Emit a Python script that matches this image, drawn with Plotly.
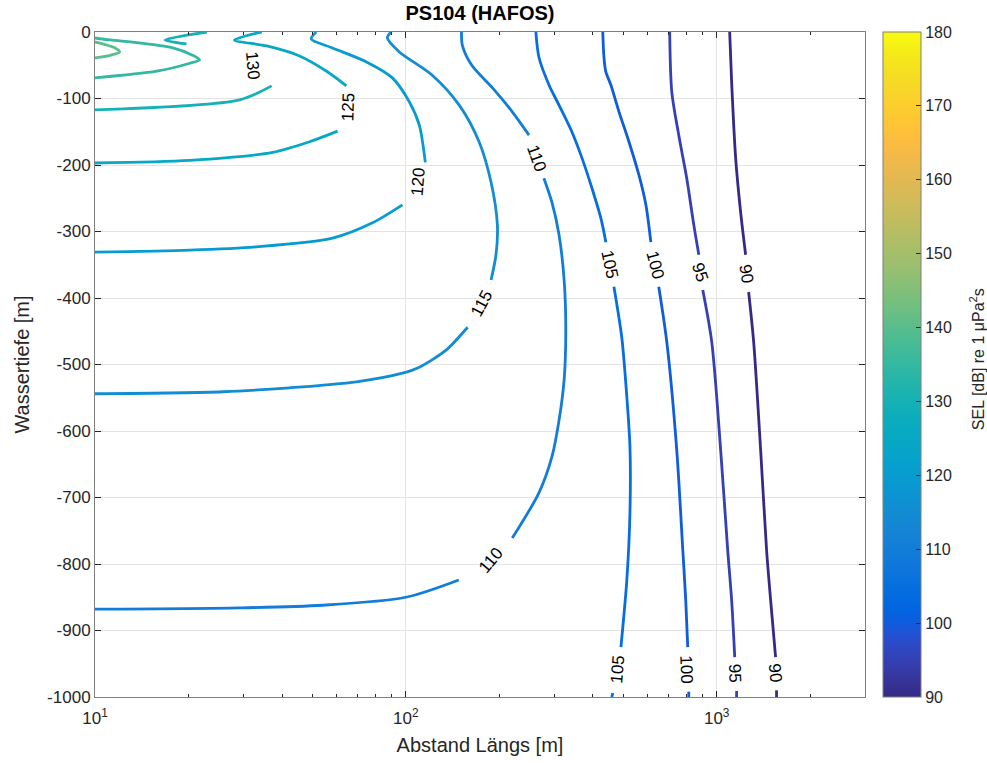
import numpy as np
import plotly.graph_objects as go

# ---------------- data ----------------
levels = [90, 95, 100, 105, 110, 115, 120, 125, 130, 135, 140]

# range [m] / depth [m]; None marks a break (label gap)
L90_x = [1101, 1117, 1151, 1194, 1239, None, 1267, 1315, 1385, 1447, 1491, 1547, None, 1558, 1558]
L90_y = [0, -75, -190, -271, -335, None, -391, -466, -629, -779, -854, -940, None, -990, -1000]

L95_x = [706, 717, 755, 801, 844, 876, None, 902, 964, 1030, 1085, 1117, 1143, None, 1159, 1159]
L95_y = [0, -90, -155, -220, -290, -335, None, -388, -466, -629, -779, -854, -940, None, -991, -1000]

L100_x = [430, 434, 440, 457, 485, 522, 562, 592, 614, None, 651, 691, 744, 778, 795, 807, None, 813, 813]
L100_y = [0, -39, -60, -80, -120, -165, -215, -260, -316, None, -383, -466, -629, -779, -854, -925, None, -992, -1000]

L105_x = [262, 268, 289, 311, 342, 369, 397, 424, 440, None, 467, 495, 514, 526, 526, 514, 492, None, 463, 460]
L105_y = [0, -38, -80, -110, -150, -190, -235, -280, -316, None, -383, -459, -549, -624, -723, -824, -925, None, -994, -1000]

L110_x = [151, 152, 163, 190, 220, 249, None, 278, 295, 311, 323, 327, 323, 311, 295, 268, 220, None, 148, 100, 54, 29, 10]
L110_y = [0, -20, -50, -84, -120, -155, None, -220, -256, -305, -373, -448, -523, -584, -639, -693, -761, None, -824, -850, -862, -866, -868]

L115_x = [89.5, 87.2, 95.3, 121.6, 148.5, 172, 188, 197, 195, 188, None, 158, 135, 110.5, 97.5, 69.3, 42.3, 25.8, 10]
L115_y = [0, -9, -30, -65, -110, -165, -226, -290, -335, -373, None, -444, -478, -504, -513, -526, -535, -541, -544]

L120_x = [51.5, 49.6, 58.1, 74.7, 90.5, 102.6, 110.5, 115.5, None, 97.5, 78.1, 58.1, 33.1, 20.2, 10]
L120_y = [0, -10.5, -24, -45, -69, -105, -140, -196, None, -260, -287, -310, -323, -328, -331]

L125_x = [34.4, 28.1, 35.7, 45.5, 55.6, 64.4, None, 60.3, 49.0, 37.3, 20.2, 10]
L125_y = [0, -12, -21, -36, -59, -81, None, -149, -165, -181, -193, -197]

L130_x = [10, 29.2, 37.0, None, 22.9, 16.8, 19.7]
L130_y = [-117, -102, -81, None, 0, -12, -18]

L135_x = [10, 15.8, 20.2, 21.7, 20.6, 17.8, 13.9, 11.2, 10]
L135_y = [-69, -59, -47, -42, -35, -24, -16.5, -12, -9]

L140_x = [10, 11.2, 12.0, 11.6, 10.6, 10]
L140_y = [-39, -35, -30, -24, -18, -15]

line_x = [L90_x, L95_x, L100_x, L105_x, L110_x, L115_x, L120_x, L125_x, L130_x, L135_x, L140_x]
line_y = [L90_y, L95_y, L100_y, L105_y, L110_y, L115_y, L120_y, L125_y, L130_y, L135_y, L140_y]

# contour labels
label_text = ["130", "125", "120", "110", "115", "110", "105", "100", "95", "90", "105", "100", "95", "90"]
label_x = [32.2, 65.4, 109.7, 263.4, 175.4, 187.5, 451.8, 632.4, 882, 1249, 481, 801, 1147, 1547]
label_y = [-50, -114, -225, -190, -408, -794, -350, -350, -362, -364, -959, -958, -964, -964]
label_angle = [85, -88, -85, 70, -62, -50, 78, 75, 72, 80, -85, 88, 88, 85]

y_ticks = [0, -100, -200, -300, -400, -500, -600, -700, -800, -900, -1000]
x_ticks = [10, 100, 1000]
x_ticktext = ["10<sup>1</sup>", "10<sup>2</sup>", "10<sup>3</sup>"]
x_minor = [20, 30, 40, 50, 60, 70, 80, 90, 200, 300, 400, 500, 600, 700, 800, 900, 2000, 3000]
cbar_ticks = [90, 100, 110, 120, 130, 140, 150, 160, 170, 180]
clim = (90, 180)
x_range = (10, 3000)

# ---------------- parula colormap ----------------
PARULA = [
    [0.2081, 0.1663, 0.5292], [0.2116, 0.1898, 0.5777], [0.2123, 0.2138, 0.6270], [0.2081, 0.2386, 0.6771],
    [0.1959, 0.2645, 0.7279], [0.1707, 0.2919, 0.7792], [0.1253, 0.3242, 0.8303], [0.0591, 0.3598, 0.8683],
    [0.0117, 0.3875, 0.8820], [0.0060, 0.4086, 0.8828], [0.0165, 0.4266, 0.8786], [0.0329, 0.4430, 0.8720],
    [0.0498, 0.4586, 0.8641], [0.0629, 0.4737, 0.8554], [0.0723, 0.4887, 0.8467], [0.0779, 0.5040, 0.8384],
    [0.0793, 0.5200, 0.8312], [0.0749, 0.5375, 0.8263], [0.0641, 0.5570, 0.8240], [0.0488, 0.5772, 0.8228],
    [0.0343, 0.5966, 0.8199], [0.0265, 0.6137, 0.8135], [0.0239, 0.6287, 0.8038], [0.0231, 0.6418, 0.7913],
    [0.0228, 0.6535, 0.7768], [0.0267, 0.6642, 0.7607], [0.0384, 0.6743, 0.7436], [0.0590, 0.6838, 0.7254],
    [0.0843, 0.6928, 0.7062], [0.1133, 0.7015, 0.6859], [0.1453, 0.7098, 0.6646], [0.1801, 0.7177, 0.6424],
    [0.2178, 0.7250, 0.6193], [0.2586, 0.7317, 0.5954], [0.3022, 0.7376, 0.5712], [0.3482, 0.7424, 0.5473],
    [0.3953, 0.7459, 0.5244], [0.4420, 0.7481, 0.5033], [0.4871, 0.7491, 0.4840], [0.5300, 0.7491, 0.4661],
    [0.5709, 0.7485, 0.4494], [0.6099, 0.7473, 0.4337], [0.6473, 0.7456, 0.4188], [0.6834, 0.7435, 0.4044],
    [0.7184, 0.7411, 0.3905], [0.7525, 0.7384, 0.3768], [0.7858, 0.7356, 0.3633], [0.8185, 0.7327, 0.3498],
    [0.8507, 0.7299, 0.3360], [0.8824, 0.7274, 0.3217], [0.9139, 0.7258, 0.3063], [0.9450, 0.7261, 0.2886],
    [0.9739, 0.7314, 0.2666], [0.9938, 0.7455, 0.2403], [0.9990, 0.7653, 0.2164], [0.9955, 0.7861, 0.1967],
    [0.9880, 0.8066, 0.1794], [0.9789, 0.8271, 0.1633], [0.9697, 0.8481, 0.1475], [0.9626, 0.8705, 0.1309],
    [0.9589, 0.8949, 0.1132], [0.9598, 0.9218, 0.0948], [0.9661, 0.9514, 0.0755], [0.9763, 0.9831, 0.0538],
]


def rgb(c):
    return "rgb(%d,%d,%d)" % tuple(int(round(v * 255)) for v in c)


def parula(t):
    t = min(max(t, 0.0), 1.0)
    pos = t * (len(PARULA) - 1)
    i = int(np.floor(pos))
    if i >= len(PARULA) - 1:
        return rgb(PARULA[-1])
    f = pos - i
    return rgb([PARULA[i][k] * (1 - f) + PARULA[i + 1][k] * f for k in range(3)])


colorscale = [[i / (len(PARULA) - 1), rgb(c)] for i, c in enumerate(PARULA)]

FONT = "Liberation Sans, Arial, Helvetica, sans-serif"
TXT = "#262626"

fig = go.Figure()

for lev, xs, ys in zip(levels, line_x, line_y):
    fig.add_trace(go.Scatter(
        x=xs, y=ys, mode="lines", connectgaps=False,
        line=dict(color=parula((lev - clim[0]) / (clim[1] - clim[0])), width=2.8,
                  shape="spline", smoothing=0.8),
        name=str(lev), showlegend=False, hoverinfo="skip",
    ))

# colour bar carrier
fig.add_trace(go.Scatter(
    x=[x_range[0], x_range[0]], y=[-1000, -1000], mode="markers",
    marker=dict(size=0.1, opacity=0, color=list(clim), cmin=clim[0], cmax=clim[1],
                colorscale=colorscale, showscale=True,
                colorbar=dict(
                    x=1.0234, xanchor="left", xref="paper", y=0.5, yanchor="middle",
                    len=1.0, lenmode="fraction", thickness=38, xpad=0, ypad=0,
                    outlinecolor="#7f7f7f", outlinewidth=1,
                    tickvals=cbar_ticks, ticks="inside", ticklen=5, tickcolor="#262626",
                    tickfont=dict(family=FONT, size=16, color=TXT),
                )),
    showlegend=False, hoverinfo="skip",
))

# colour bar title
fig.add_annotation(x=1.1455, y=0.508, xref="paper", yref="paper",
                   text="SEL [dB] re 1 μPa<sup>2</sup>s", showarrow=False, textangle=-90,
                   font=dict(family=FONT, size=16, color=TXT), xanchor="center", yanchor="middle")

for t, x, y, a in zip(label_text, label_x, label_y, label_angle):
    fig.add_annotation(x=np.log10(x), y=y, xref="x", yref="y", text=t, showarrow=False,
                       textangle=a, font=dict(family=FONT, size=17, color="black"),
                       xanchor="center", yanchor="middle")

fig.update_layout(
    width=987, height=763,
    margin=dict(l=95, r=122, t=32, b=66, autoexpand=False),
    paper_bgcolor="white", plot_bgcolor="white",
    font=dict(family=FONT, color=TXT),
    title=dict(text="<b>PS104 (HAFOS)</b>", x=(95 + 865) / 2 / 987, xanchor="center",
               y=1 - 13 / 763, yanchor="middle", yref="container",
               font=dict(family=FONT, size=20, color="black")),
    showlegend=False,
)

fig.update_xaxes(
    type="log", range=[np.log10(x_range[0]), np.log10(x_range[1])],
    tickmode="array", tickvals=x_ticks, ticktext=x_ticktext,
    ticks="inside", ticklen=6, tickcolor="#262626", ticklabelstandoff=6,
    showline=True, linecolor="#808080", linewidth=1, mirror="allticks",
    showgrid=True, gridcolor="#e3e3e3", gridwidth=1, zeroline=False,
    tickfont=dict(family=FONT, size=17, color=TXT),
    minor=dict(tickmode="array", tickvals=x_minor, ticks="inside", ticklen=3,
               tickcolor="#262626", showgrid=False),
    title=dict(text="Abstand Längs [m]", font=dict(family=FONT, size=20, color=TXT), standoff=10),
)
fig.update_yaxes(
    range=[-1000, 0], tickmode="array", tickvals=y_ticks, ticktext=[str(v) for v in y_ticks],
    ticks="inside", ticklen=6, tickcolor="#262626",
    showline=True, linecolor="#808080", linewidth=1, mirror="allticks",
    showgrid=True, gridcolor="#e3e3e3", gridwidth=1, zeroline=False,
    tickfont=dict(family=FONT, size=17, color=TXT),
    title=dict(text="Wassertiefe [m]", font=dict(family=FONT, size=20, color=TXT), standoff=12),
)

fig.write_html("out.html")
